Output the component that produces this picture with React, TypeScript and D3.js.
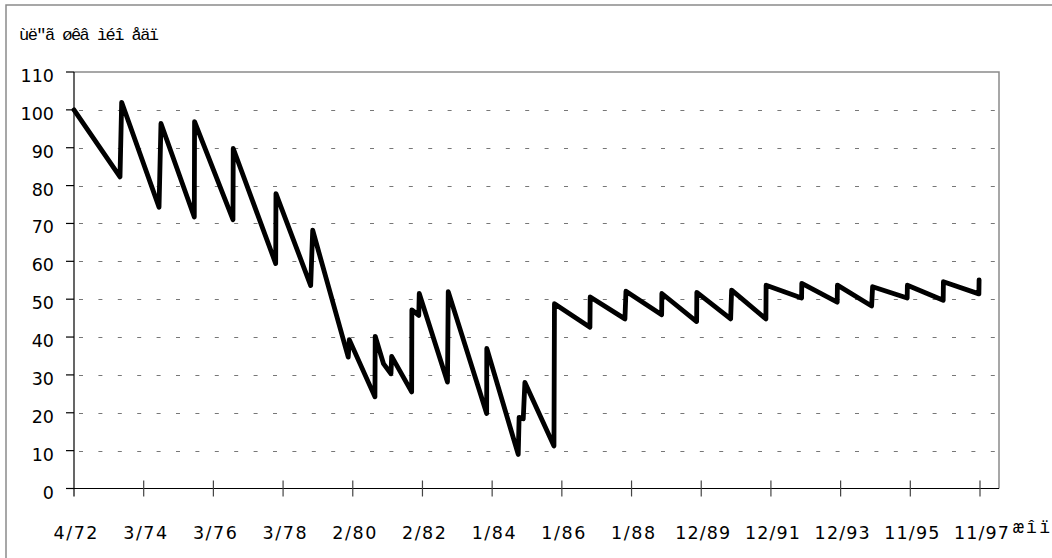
import React, { useEffect, useRef } from 'react';
import * as d3 from 'd3';

// tick labels of the category axis, one every step
const xTickLabels = ['4/72', '3/74', '3/76', '3/78', '2/80', '2/82', '1/84', '1/86', '1/88', '12/89', '12/91', '12/93', '11/95', '11/97'];
const yTicks = [0, 10, 20, 30, 40, 50, 60, 70, 80, 90, 100, 110];

// position of each vertex, in tick steps from 4/72
const seriesT = [
  0, 0.66, 0.684, 1.22, 1.248, 1.726, 1.73, 2.281, 2.285, 2.894, 2.898, 3.396, 3.425, 3.935, 3.95,
  4.318, 4.322, 4.44, 4.548, 4.558, 4.845, 4.848, 4.947, 4.954, 5.359, 5.37, 5.921, 5.923, 6.374,
  6.387, 6.446, 6.47, 6.887, 6.894, 7.403, 7.407, 7.905, 7.92, 8.432, 8.435, 8.934, 8.937, 9.422,
  9.436, 9.928, 9.931, 10.44, 10.443, 10.951, 10.954, 11.445, 11.459, 11.955, 11.958, 12.472,
  12.475, 12.984, 12.987
];
const seriesValue = [
  100, 82.3, 102, 74.3, 96.4, 71.7, 96.9, 71, 89.8, 59.4, 77.9, 53.6, 68.2, 34.7, 39.3,
  24.2, 40.2, 33, 30.3, 34.9, 25.5, 47.2, 45.7, 51.5, 28.1, 52, 19.8, 37, 9,
  18.8, 18.4, 28, 11.2, 48.8, 42.6, 50.6, 44.8, 52.1, 45.9, 51.5, 44.1, 51.8, 44.8,
  52.4, 44.8, 53.7, 50.3, 54.2, 49.2, 53.7, 48.2, 53.3, 50.3, 53.7, 49.7,
  54.6, 51.4, 55.1
];

const yTitle = 'ùë"ã øêâ ìéî åäï';
const xTitle = 'æîï';

const W = 1052;
const H = 558;

const App: React.FC = () => {
  const svgRef = useRef<SVGSVGElement>(null);

  useEffect(() => {
    if (!svgRef.current) return;
    const svg = d3.select(svgRef.current);
    svg.selectAll('*').remove();

    const left = 74;
    const top = 72;
    const bottom = 488.5;
    const x = d3.scaleLinear().domain([0, xTickLabels.length - 1]).range([left, 980]);
    const right = x(13) + 19;
    const y = d3.scaleLinear().domain([0, 110]).range([bottom, top]);

    const labelFont = '"DejaVu Sans", sans-serif';
    const monoFont = '"Liberation Mono", "DejaVu Sans Mono", monospace';
    const charW = 11; // labels sit on an even character pitch

    // outer frame
    svg.append('path')
      .attr('d', `M6,${H} L6,5 L${W},5`)
      .attr('fill', 'none')
      .attr('stroke', '#8a8a8a')
      .attr('stroke-width', 1.5);

    // dashed gridlines
    svg.append('g')
      .selectAll('line')
      .data(yTicks.filter(d => d > 0 && d < 110))
      .enter()
      .append('line')
      .attr('x1', left)
      .attr('x2', right)
      .attr('y1', d => Math.round(y(d)) + 0.5)
      .attr('y2', d => Math.round(y(d)) + 0.5)
      .attr('stroke', '#777')
      .attr('stroke-width', 1)
      .attr('stroke-dasharray', '4,15.4')
      .attr('stroke-dashoffset', -5);

    // plot area top and right border
    svg.append('path')
      .attr('d', `M${left},${top} L${right},${top} L${right},${bottom}`)
      .attr('fill', 'none')
      .attr('stroke', '#8a8a8a')
      .attr('stroke-width', 1.5);

    // y axis
    svg.append('line')
      .attr('x1', left).attr('x2', left)
      .attr('y1', top).attr('y2', bottom + 8)
      .attr('stroke', '#000')
      .attr('stroke-width', 1.2);

    svg.append('g')
      .selectAll('line')
      .data(yTicks)
      .enter()
      .append('line')
      .attr('x1', left - 8)
      .attr('x2', left)
      .attr('y1', d => y(d))
      .attr('y2', d => y(d))
      .attr('stroke', '#000')
      .attr('stroke-width', 1.2);

    svg.append('g')
      .selectAll('text')
      .data(yTicks)
      .enter()
      .append('text')
      .attr('x', 54)
      .attr('y', d => y(d) + 10)
      .attr('text-anchor', 'end')
      .attr('font-family', labelFont)
      .attr('font-size', 17.5)
      .attr('fill', '#000')
      .text(d => d);

    // x axis
    svg.append('line')
      .attr('x1', left).attr('x2', right)
      .attr('y1', bottom).attr('y2', bottom)
      .attr('stroke', '#000')
      .attr('stroke-width', 1.2);

    svg.append('g')
      .selectAll('line')
      .data(xTickLabels.slice(1))
      .enter()
      .append('line')
      .attr('x1', (d, i) => x(i + 1))
      .attr('x2', (d, i) => x(i + 1))
      .attr('y1', bottom - 8)
      .attr('y2', bottom + 8)
      .attr('stroke', '#444')
      .attr('stroke-width', 1.2);

    svg.append('g')
      .selectAll('text')
      .data(xTickLabels)
      .enter()
      .append('text')
      .attr('x', (d, i) => x(i) + 1.5 - (d.length * charW) / 2)
      .attr('y', 539)
      .attr('textLength', d => d.length * charW)
      .attr('lengthAdjust', 'spacing')
      .attr('font-family', labelFont)
      .attr('font-size', 17.5)
      .attr('fill', '#000')
      .text(d => d);

    // axis titles
    svg.append('text')
      .attr('x', 19)
      .attr('y', 40)
      .attr('textLength', 140)
      .attr('lengthAdjust', 'spacing')
      .attr('font-family', monoFont)
      .attr('font-size', 17)
      .attr('fill', '#000')
      .text(yTitle);

    svg.append('text')
      .attr('x', 1013)
      .attr('y', 533)
      .attr('textLength', 37)
      .attr('lengthAdjust', 'spacing')
      .attr('font-family', monoFont)
      .attr('font-size', 18)
      .attr('fill', '#000')
      .text(xTitle);

    // the series
    const line = d3.line<number>()
      .x((d, i) => x(seriesT[i]))
      .y(d => y(d));

    svg.append('path')
      .attr('d', line(seriesValue))
      .attr('fill', 'none')
      .attr('stroke', '#000')
      .attr('stroke-width', 4.8)
      .attr('stroke-linejoin', 'round')
      .attr('stroke-linecap', 'round');
  }, []);

  return (
    <svg
      ref={svgRef}
      width={W}
      height={H}
      style={{ position: 'fixed', left: 0, top: 0, background: '#fff' }}
    />
  );
};

export default App;
